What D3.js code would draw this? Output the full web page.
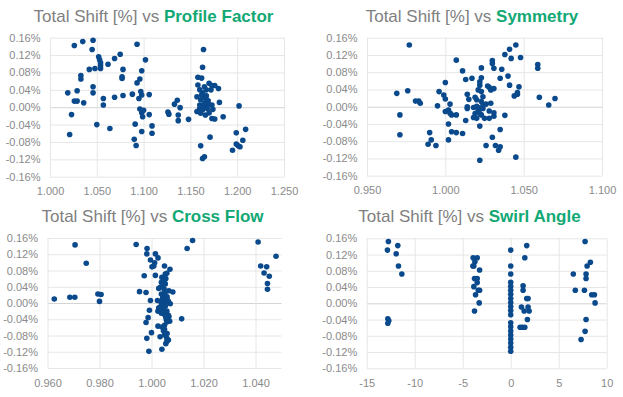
<!DOCTYPE html>
<html>
<head>
  <script src="https://d3js.org/d3.v7.min.js"></script>
  <style>
    body { margin: 0; background: #fff; }
    svg { display: block; font-family: "Liberation Sans", Arial, sans-serif; }
  </style>
</head>
<body>
  <svg id="chart" width="623" height="397"></svg>
  <script>
    // shift values are in %
    const yTicks = [-0.16, -0.12, -0.08, -0.04, 0, 0.04, 0.08, 0.12, 0.16];

    // Profile Factor panel
    const pfTicks = [1.0, 1.05, 1.1, 1.15, 1.2, 1.25];
    const profileFactor = [1.026,1.035,1.046,1.045,1.052,1.053,1.054,1.054,1.054,1.048,1.042,1.062,1.069,1.075,1.078,1.077,1.077,1.033,1.033,1.046,1.046,1.019,1.029,1.026,1.029,1.036,1.057,1.057,1.069,1.078,1.088,1.023,1.021,1.050,1.064,
      1.093,1.102,1.098,1.093,1.096,1.097,1.098,1.095,1.106,1.096,1.100,1.098,1.099,1.106,1.091,1.109,1.098,1.109,1.090,1.092,
      1.126,1.127,1.133,1.136,1.139,1.137,1.137,1.148,
      1.164,1.163,1.158,1.162,1.158,1.170,1.173,1.176,1.180,1.165,1.167,1.172,1.163,1.157,1.161,1.165,1.167,1.181,1.160,1.165,1.169,1.173,1.164,1.168,1.174,1.157,1.161,1.166,1.170,1.173,1.176,1.185,1.171,1.161,1.163,1.165,1.160,1.162,1.160,1.163,1.167,1.169,
      1.202,1.199,1.209,1.206,1.199,1.201,1.203,1.195];
    const profileShift = [0.142,0.151,0.154,0.133,0.116,0.109,0.102,0.096,0.089,0.089,0.087,0.099,0.112,0.122,0.087,0.070,0.066,0.073,0.065,0.047,0.033,0.033,0.038,0.014,0.014,0.010,0.020,0.005,0.023,0.027,0.030,-0.017,-0.063,-0.040,-0.049,
      0.145,0.109,0.084,0.056,0.065,0.036,0.028,0.020,0.029,-0.004,-0.007,-0.013,-0.022,-0.017,-0.039,-0.043,-0.056,-0.060,-0.074,-0.088,
      -0.011,-0.016,0.007,0.016,-0.001,-0.018,-0.031,-0.028,
      0.133,0.092,0.069,0.067,0.051,0.055,0.050,0.050,0.043,0.047,0.040,0.040,0.033,0.024,0.017,0.023,0.026,0.011,0.005,0.009,0.007,0.005,0.000,-0.003,-0.005,-0.010,-0.014,-0.018,-0.013,-0.026,-0.027,-0.022,-0.069,-0.089,-0.118,-0.114,0.040,0.028,-0.003,-0.006,0.017,0.015,
      0.003,-0.059,-0.051,-0.076,-0.085,-0.089,-0.091,-0.099];

    // Symmetry panel
    const symTicks = [0.95, 1.0, 1.05, 1.1];
    const symmetry = [0.977,0.969,0.976,0.971,0.971,0.981,0.983,0.984,0.996,0.999,1.000,0.995,1.000,1.003,1.000,1.002,1.003,1.004,1.007,1.002,1.004,1.007,0.990,0.989,0.991,0.994,1.002,1.011,
      1.007,1.011,1.013,1.017,1.014,1.015,1.014,1.013,1.014,1.019,1.020,1.018,1.020,1.021,1.019,1.018,1.020,1.022,1.023,1.021,1.022,1.022,1.023,1.023,1.023,1.024,1.023,1.024,1.024,1.022,1.022,
      1.026,1.025,1.026,1.027,1.028,1.029,1.028,1.028,1.029,1.030,1.030,1.031,1.031,1.031,1.031,1.030,1.032,1.034,1.035,1.035,1.035,1.036,1.038,1.038,1.040,1.041,1.041,1.042,1.045,1.044,1.046,1.046,1.047,1.048,1.045,
      1.059,1.059,1.060,1.066,1.070,1.021];
    const symShift = [0.143,0.031,0.037,-0.019,-0.065,0.013,0.013,0.008,0.035,0.027,0.018,0.002,0.056,0.006,-0.011,-0.008,-0.015,-0.019,-0.019,-0.040,-0.058,-0.060,-0.060,-0.087,-0.077,-0.090,-0.077,-0.062,
      0.108,0.083,0.063,0.066,0.029,0.017,-0.004,-0.032,0.000,0.022,0.016,-0.002,0.001,-0.008,-0.016,-0.025,-0.027,-0.016,-0.019,0.039,0.050,0.058,0.067,0.090,0.035,0.023,0.012,0.004,-0.004,-0.045,-0.124,
      0.006,-0.027,-0.090,0.048,0.045,0.039,-0.010,-0.027,0.008,0.100,0.107,0.089,0.042,-0.022,-0.014,-0.071,-0.090,-0.101,-0.093,0.066,-0.053,0.087,0.121,-0.020,0.071,0.050,0.133,0.112,0.143,0.025,0.029,0.033,0.046,0.114,-0.117,
      0.098,0.089,0.022,0.004,0.019,-0.002];

    // Cross Flow panel
    const cfTicks = [0.96, 0.98, 1.0, 1.02, 1.04];
    const crossFlow = [0.9626,0.9686,0.9705,0.9706,0.9749,0.9794,0.9806,0.9800,0.9941,0.9983,0.9982,0.9972,0.9954,0.9979,0.9996,1.0012,1.0015,1.0025,1.0002,1.0009,1.0015,0.9996,0.9992,0.9987,0.9979,1.0000,0.9982,0.9990,
      1.0040,1.0033,1.0023,1.0028,1.0040,1.0038,1.0050,1.0071,1.0053,1.0059,
      1.0048,1.0053,1.0035,1.0048,1.0057,1.0067,1.0082,1.0038,1.0050,1.0043,1.0059,1.0035,1.0050,1.0065,1.0038,1.0053,1.0072,1.0028,1.0044,1.0059,1.0050,1.0065,1.0038,1.0057,1.0059,1.0050,1.0025,1.0040,1.0046,1.0059,1.0059,1.0065,1.0050,1.0067,1.0025,
      1.0045,1.0055,1.0050,1.0060,1.0045,1.0055,1.0050,1.0060,1.0055,1.0065,1.0030,1.0070,
      1.0116,1.0137,1.0158,1.0410,1.0420,1.0443,1.0433,1.0453,1.0446,1.0446,1.0479];
    const cfShift = [0.010,0.014,0.014,0.143,0.098,0.022,0.021,0.004,0.144,0.134,0.121,0.067,0.028,0.026,0.106,0.099,0.121,0.111,0.089,0.091,0.068,0.006,-0.018,-0.036,-0.048,-0.073,-0.087,-0.119,
      -0.114,-0.083,0.006,0.036,0.063,0.051,0.091,0.083,0.071,0.073,
      0.055,0.047,0.039,0.035,0.029,0.030,0.027,0.022,0.018,0.013,0.010,0.004,0.002,0.004,-0.005,-0.008,-0.002,-0.012,-0.017,-0.020,-0.028,-0.030,-0.025,-0.041,-0.047,-0.055,-0.057,-0.059,-0.068,-0.087,-0.095,-0.091,-0.079,-0.034,-0.020,
      0.045,0.060,0.025,0.015,-0.010,-0.035,-0.065,-0.075,-0.100,0.002,-0.015,-0.045,
      -0.039,0.134,0.154,0.150,0.091,0.089,0.074,0.066,0.048,0.034,0.115];

    // Swirl Angle panel
    const saTicks = [-15, -10, -5, 0, 5, 10];
    const swirlAngle = [-12.74,-12.84,-12.8,-12.7,-12.8,-11.76,-11.93,-11.69,-11.34,
      -3.91,-3.49,-3.73,-3.94,-3.84,-3.24,-3.77,-3.49,-3.49,-3.84,-3.66,-3.38,-3.24,-3.28,-3.77,
      0,0,0,0,0,0,0,0,0,0,0,0,0,0,0,0,0,0,0,0,
      1.67,1.47,1.29,1.29,1.12,1.40,1.67,1.81,1.81,1.92,1.74,0.98,1.22,1.47,
      6.52,6.73,7.75,7.96,8.30,7.85,7.85,7.68,8.44,8.72,8.79,7.85,7.75,7.33];
    const saShift = [0.152,0.131,-0.038,-0.043,-0.049,0.142,0.122,0.092,0.072,
      0.112,0.112,0.102,0.092,0.092,0.082,0.061,0.061,0.051,0.041,0.021,0.032,0.032,0.001,-0.019,
      0.131,0.092,0.072,0.052,0.042,0.032,0.022,0.012,0.002,-0.008,-0.018,-0.028,-0.048,-0.058,-0.068,-0.078,-0.088,-0.098,-0.108,-0.118,
      0.142,0.112,0.043,0.032,-0.009,-0.019,0.012,0.012,-0.009,-0.019,-0.040,-0.059,-0.059,-0.059,
      0.072,0.032,0.152,0.092,0.101,0.072,0.061,0.032,0.021,0.021,0.001,-0.040,-0.069,-0.089];

    const panels = [
      { name: "Profile Factor", xs: profileFactor, ys: profileShift, xTicks: pfTicks, fmt: d => d.toFixed(3),
        left: 50, right: 284, top: 37.7, bottom: 176.7, titleX: 153.5, titleY: 21.5 },
      { name: "Symmetry", xs: symmetry, ys: symShift, xTicks: symTicks, fmt: d => d.toFixed(3),
        left: 367, right: 602, top: 37.7, bottom: 175.7, titleX: 472, titleY: 21.5 },
      { name: "Cross Flow", xs: crossFlow, ys: cfShift, xTicks: cfTicks, fmt: d => d.toFixed(3), xMax: 1.05,
        left: 47.5, right: 281.5, top: 238, bottom: 368, titleX: 152.5, titleY: 222 },
      { name: "Swirl Angle", xs: swirlAngle, ys: saShift, xTicks: saTicks, fmt: d => String(d),
        left: 366.7, right: 606.7, top: 238.3, bottom: 368.3, titleX: 469.5, titleY: 222 }
    ];

    const svg = d3.select("#chart");
    const labelColor = "#8a8a8a";
    const gridColor = "#e6e6e6";

    panels.forEach(p => {
      const w = p.right - p.left, h = p.bottom - p.top;
      const xMax = p.xMax !== undefined ? p.xMax : p.xTicks[p.xTicks.length - 1];
      const x = d3.scaleLinear().domain([p.xTicks[0], xMax]).range([0, w]);
      const y = d3.scaleLinear().domain([-0.16, 0.16]).range([h, 0]);

      const g = svg.append("g").attr("transform", `translate(${p.left},${p.top})`);

      // y gridlines + labels
      const yAxis = g.append("g")
        .call(d3.axisLeft(y).tickValues(yTicks).tickSize(-w).tickPadding(9.5)
          .tickFormat(d => d.toFixed(2) + "%"));
      // x gridlines + labels
      const xAxis = g.append("g")
        .attr("transform", `translate(0,${h})`)
        .call(d3.axisBottom(x).tickValues(p.xTicks).tickSize(-h).tickPadding(11).tickFormat(p.fmt));

      [yAxis, xAxis].forEach(a => {
        a.select(".domain").remove();
        a.attr("font-family", null).attr("font-size", null);
        a.selectAll("line").attr("stroke", gridColor).attr("stroke-width", 1);
        a.selectAll("text").attr("fill", labelColor).style("font-size", "11px");
      });
      // horizontal axis crosses at zero
      yAxis.selectAll(".tick").filter(d => d === 0).select("line").attr("stroke", "#d4d4d4");

      g.selectAll("circle")
        .data(p.xs.map((v, i) => [v, p.ys[i]]))
        .enter().append("circle")
        .attr("cx", d => x(d[0]))
        .attr("cy", d => y(d[1]))
        .attr("r", 2.8)
        .attr("fill", "#0a4a8c");

      // title
      const t = svg.append("text")
        .attr("x", p.titleX)
        .attr("y", p.titleY)
        .attr("text-anchor", "middle")
        .style("font-size", "17px");
      t.append("tspan").attr("fill", "#808080").text("Total Shift [%] vs ");
      t.append("tspan").attr("fill", "#12a874").attr("font-weight", "bold").text(p.name);
    });
  </script>
</body>
</html>
